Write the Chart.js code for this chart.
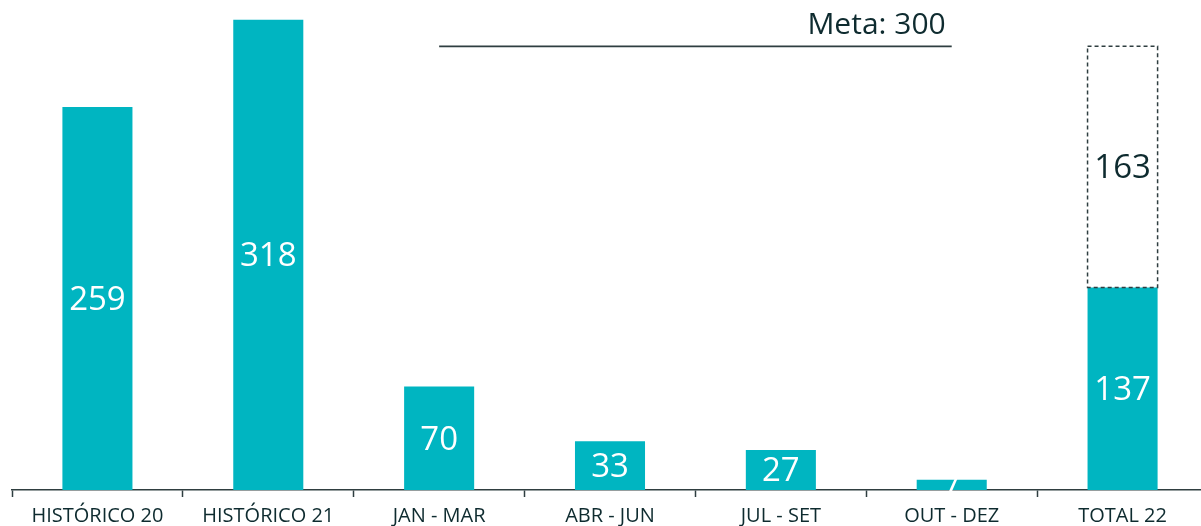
<!DOCTYPE html>
<html>
<head>
<meta charset="utf-8">
<script src="https://cdn.jsdelivr.net/npm/chart.js@4"></script>
<style>
  html, body { margin: 0; padding: 0; background: #ffffff; overflow: hidden; }
  #wrap { width: 1208px; height: 526px; position: relative; }
</style>
</head>
<body>
<div id="wrap"><canvas id="c"></canvas></div>
<script>
const categories = ['HISTÓRICO 20', 'HISTÓRICO 21', 'JAN - MAR', 'ABR - JUN', 'JUL - SET', 'OUT - DEZ', 'TOTAL 22'];
const realizado = [259, 318, 70, 33, 27, 7, 137];
const faltante = [null, null, null, null, null, null, 163];
const meta = [null, null, 300, 300, 300, 300, null];
const metaLabel = 'Meta: 300';

const TEAL = '#00B5C1';
const DARK = '#0E2B2F';
const FONT = "'Open Sans', 'Noto Sans', sans-serif";

// Draws the dashed outline of the remaining amount and the value labels
const overlayPlugin = {
  id: 'overlay',
  afterDatasetsDraw(chart) {
    const ctx = chart.ctx;
    // dashed box for the remaining amount
    const remMeta = chart.getDatasetMeta(1);
    remMeta.data.forEach((el, i) => {
      if (faltante[i] == null) return;
      const p = el.getProps(['x', 'y', 'base', 'width'], true);
      ctx.save();
      ctx.strokeStyle = '#2F3E40';
      ctx.lineWidth = 1.5;
      ctx.setLineDash([4, 3]);
      ctx.strokeRect(p.x - p.width / 2, p.y, p.width, p.base - p.y);
      ctx.restore();
    });
    // value labels
    ctx.save();
    ctx.font = '33px ' + FONT;
    ctx.textAlign = 'center';
    ctx.textBaseline = 'middle';
    const barMeta = chart.getDatasetMeta(0);
    barMeta.data.forEach((el, i) => {
      const p = el.getProps(['x', 'y', 'base'], true);
      ctx.fillStyle = '#ffffff';
      ctx.fillText(String(realizado[i]), p.x, (p.y + p.base) / 2 + 2);
    });
    remMeta.data.forEach((el, i) => {
      if (faltante[i] == null) return;
      const p = el.getProps(['x', 'y', 'base'], true);
      ctx.fillStyle = DARK;
      ctx.fillText(String(faltante[i]), p.x, (p.y + p.base) / 2 + 2);
    });
    // target caption above the target line
    const lineMeta = chart.getDatasetMeta(2);
    const pts = lineMeta.data.filter((el, i) => meta[i] != null);
    if (pts.length) {
      const last = pts[pts.length - 1];
      ctx.font = '30px ' + FONT;
      ctx.textAlign = 'right';
      ctx.textBaseline = 'alphabetic';
      ctx.fillStyle = DARK;
      ctx.fillText(metaLabel, last.x - 6, last.y - 12);
    }
    ctx.restore();
  }
};

new Chart(document.getElementById('c'), {
  data: {
    labels: categories,
    datasets: [
      {
        type: 'bar',
        data: realizado,
        backgroundColor: TEAL,
        barPercentage: 0.82,
        categoryPercentage: 0.5,
        stack: 's'
      },
      {
        type: 'bar',
        data: faltante,
        backgroundColor: 'rgba(255,255,255,0)',
        barPercentage: 0.82,
        categoryPercentage: 0.5,
        stack: 's'
      },
      {
        type: 'line',
        data: meta,
        borderColor: '#2F3E40',
        borderWidth: 1.6,
        pointRadius: 0,
        fill: false,
        spanGaps: false
      }
    ]
  },
  options: {
    responsive: true,
    maintainAspectRatio: false,
    animation: false,
    layout: { padding: { left: 12, right: 0, top: 2, bottom: 0 } },
    plugins: { legend: { display: false }, tooltip: { enabled: false } },
    scales: {
      x: {
        stacked: true,
        offset: true,
        grid: {
          offset: true,
          drawOnChartArea: false,
          drawTicks: true,
          tickLength: 7,
          tickColor: '#2F3E40',
          tickWidth: 1.5
        },
        border: { display: true, color: '#2F3E40', width: 1.5 },
        ticks: {
          color: DARK,
          font: { family: FONT, size: 20 },
          padding: 7,
          maxRotation: 0,
          autoSkip: false
        },
        afterFit(scale) { scale.height = 36; }
      },
      y: {
        stacked: true,
        display: false,
        min: 0,
        max: 330
      }
    }
  },
  plugins: [overlayPlugin]
});
</script>
</body>
</html>
